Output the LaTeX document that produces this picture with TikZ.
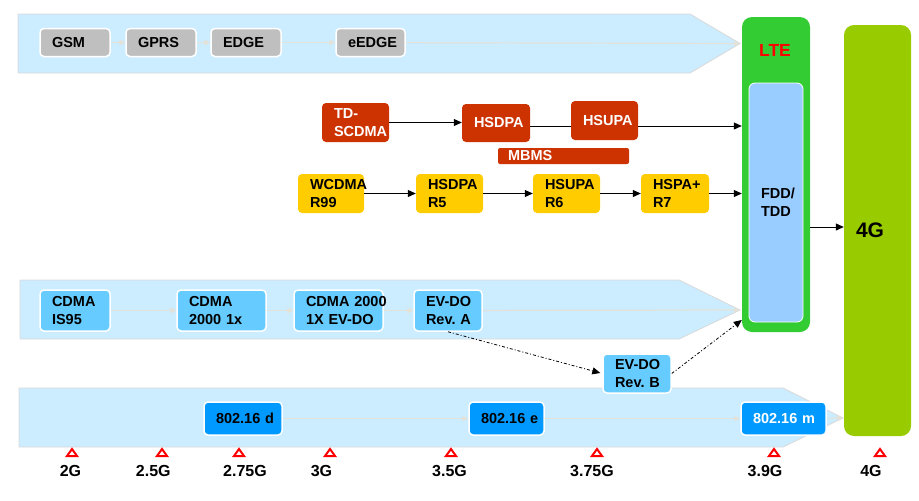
\documentclass[tikz,border=0pt]{standalone}
\usepackage{fontspec}
\setmainfont{Liberation Sans}
\frenchspacing
\usetikzlibrary{arrows.meta}
\definecolor{bandfill}{HTML}{CCECFF}
\definecolor{bandline}{HTML}{D9D9D9}
\definecolor{flowline}{HTML}{E2E2DA}
\definecolor{boxgray}{HTML}{BFBFBF}
\definecolor{tdred}{HTML}{CC3300}
\definecolor{wcyellow}{HTML}{FFCC00}
\definecolor{cdmablue}{HTML}{66CCFF}
\definecolor{wimaxblue}{HTML}{0099FF}
\definecolor{ltegreen}{HTML}{33CC33}
\definecolor{fddblue}{HTML}{99CCFF}
\definecolor{fourg}{HTML}{99CC00}
\tikzset{
  basebox/.style={rounded corners=4pt, inner xsep=12pt, inner ysep=0pt, align=left,
    font=\bfseries\fontsize{14.5}{18}\selectfont},
  bx/.style 2 args={text width=#1, minimum height=#2},
  gbox/.style={basebox, fill=boxgray, draw=white, line width=1.5pt},
  rbox/.style={basebox, fill=tdred, text=white},
  ybox/.style={basebox, fill=wcyellow},
  cbox/.style={basebox, fill=cdmablue, draw=white, line width=1.5pt},
  wbox/.style={basebox, fill=wimaxblue, draw=white, line width=1.5pt},
  band/.style={fill=bandfill, draw=bandline, line width=0.8pt},
  flow/.style={draw=flowline, line width=1.2pt, -{Triangle[length=6pt,width=6pt]}},
  blk/.style={draw=black, line width=1pt, -{Triangle[length=8pt,width=7pt]}},
  dashdotarrow/.style={draw=black, line width=0.8pt, dash pattern=on 3pt off 2pt on 1pt off 2pt,
    -{Triangle[length=8pt,width=7pt]}},
  tickmark/.style={draw=red, fill=white, line width=2pt, line join=miter},
  ticklabel/.style={font=\bfseries\fontsize{16}{19}\selectfont, inner sep=0pt}
}
\begin{document}
\begin{tikzpicture}[x=1pt,y=-1pt]
\useasboundingbox (0,0) rectangle (919,501);

% bands
\coordinate (tip1) at (740,43.5);
\coordinate (tip2) at (740,310);
\coordinate (tip3) at (843,418);
\path[band] (18,14) -- (690,14) -- (tip1) -- (690,73) -- (18,73) -- cycle;
\path[band] (20,280) -- (679,280) -- (tip2) -- (679,339) -- (20,339) -- cycle;
\path[band] (19,388) -- (783,388) -- (tip3) -- (783,447) -- (19,447) -- cycle;

% LTE and 4G
\node[fill=ltegreen, rounded corners=10pt, minimum width=68pt, minimum height=315pt, inner sep=0pt] (lte) at (776,174.5) {};
\node[font=\bfseries\fontsize{17.5}{21}\selectfont, text=red, inner sep=0pt] (ltetxt) at (775,50) {LTE};
\node[basebox, bx={30}{239}, fill=fddblue, draw=white, line width=0.8pt, rounded corners=6pt] (fdd) at (776,202.5) {FDD/\\TDD};
\node[basebox, bx={43}{411}, fill=fourg, rounded corners=10pt, font=\bfseries\fontsize{21}{25}\selectfont] (g4) at (877.5,230.5) {4G};

% GSM band
\node[gbox, bx={46}{28}] (gsm) at (75,42.5) {GSM};
\node[gbox, bx={46}{28}] (gprs) at (161,42.5) {GPRS};
\node[gbox, bx={46}{28}] (edge) at (246,42.5) {EDGE};
\node[gbox, bx={45}{28}] (eedge) at (370.5,42.5) {eEDGE};
\draw[flow] (gsm) -- (gprs);
\draw[flow] (gprs) -- (edge);
\draw[flow] (edge) -- (eedge);
\draw[flow] (eedge) -- (tip1);

% TD-SCDMA row
\node[rbox, bx={43}{39}] (td) at (355.5,122.5) {\mbox{TD-}\\SCDMA};
\node[rbox, bx={44}{38}] (hsdpa) at (496,123) {HSDPA};
\node[rbox, bx={43}{39}] (hsupa) at (604.5,120.5) {HSUPA};
\node[rbox, bx={111}{16}, inner xsep=10pt, rounded corners=2pt] (mbms) at (563.5,156) {MBMS};
\draw[blk] (td.east) -- (td.east -| hsdpa.west);
\draw[line width=1pt] (hsdpa.east |- 0,126) -- (hsupa.west |- 0,126);
\draw[blk] (hsupa.east |- 0,126) -- (lte.west |- 0,126);

% WCDMA row
\node[ybox, bx={42}{39}] (wcdma) at (331,193.5) {WCDMA\\R99};
\node[ybox, bx={43}{39}] (r5) at (449.5,193.5) {HSDPA\\R5};
\node[ybox, bx={43}{39}] (r6) at (566.5,193.5) {HSUPA\\R6};
\node[ybox, bx={44}{39}] (r7) at (675,193.5) {HSPA+\\R7};
\draw[blk] (wcdma) -- (r5);
\draw[blk] (r5) -- (r6);
\draw[blk] (r6) -- (r7);
\draw[blk] (r7) -- (lte.west |- r7);

\draw[blk] (lte.east |- 0,227) -- (g4.west |- 0,227);

% CDMA band
\node[cbox, bx={46}{41}] (is95) at (75,310.5) {CDMA\\IS95};
\node[cbox, bx={65}{41}] (c2k) at (221.5,310.5) {CDMA\\\mbox{2000 1x}};
\node[cbox, bx={65}{41}] (evdo) at (338.5,310.5) {\mbox{CDMA 2000}\\\mbox{1X EV-DO}};
\node[cbox, bx={44}{41}] (reva) at (448,310.5) {\mbox{EV-DO}\\\mbox{Rev. A}};
\node[cbox, bx={44}{39}] (revb) at (637,373.5) {\mbox{EV-DO}\\\mbox{Rev. B}};
\draw[flow] (is95) -- (c2k);
\draw[flow] (c2k) -- (evdo);
\draw[flow] (evdo) -- (reva);
\draw[flow] (reva) -- (tip2);
\draw[dashdotarrow, shorten >=2pt] (reva.south) -- (revb.west);
\draw[dashdotarrow] (revb.east) -- (lte.west |- 0,320);

% 802.16 band
\node[wbox, bx={54}{33}] (wd) at (243,418.5) {\mbox{802.16 d}};
\node[wbox, bx={51}{33}] (we) at (506.5,418.5) {\mbox{802.16 e}};
\node[wbox, bx={61}{33}, text=white] (wm) at (783.5,418.5) {\mbox{802.16 m}};
\draw[flow] (wd) -- (we);
\draw[flow] (we) -- (wm);
\draw[flow] (wm) -- (tip3);

% generation ticks
\foreach \tx/\lx/\nm/\txt in {72/70.5/a/2G, 162/153.3/b/2.5G, 239/245/c/2.75G, 330/321.5/d/3G,
    451/449.5/e/3.5G, 597/592/f/3.75G, 774/765/g/3.9G, 880/871/h/4G}{
  \draw[tickmark] (\tx-5,456) -- (\tx,449) -- (\tx+5,456) -- cycle;
  \node[ticklabel] (lab\nm) at (\lx,470.5) {\txt};
}
\end{tikzpicture}
\end{document}
